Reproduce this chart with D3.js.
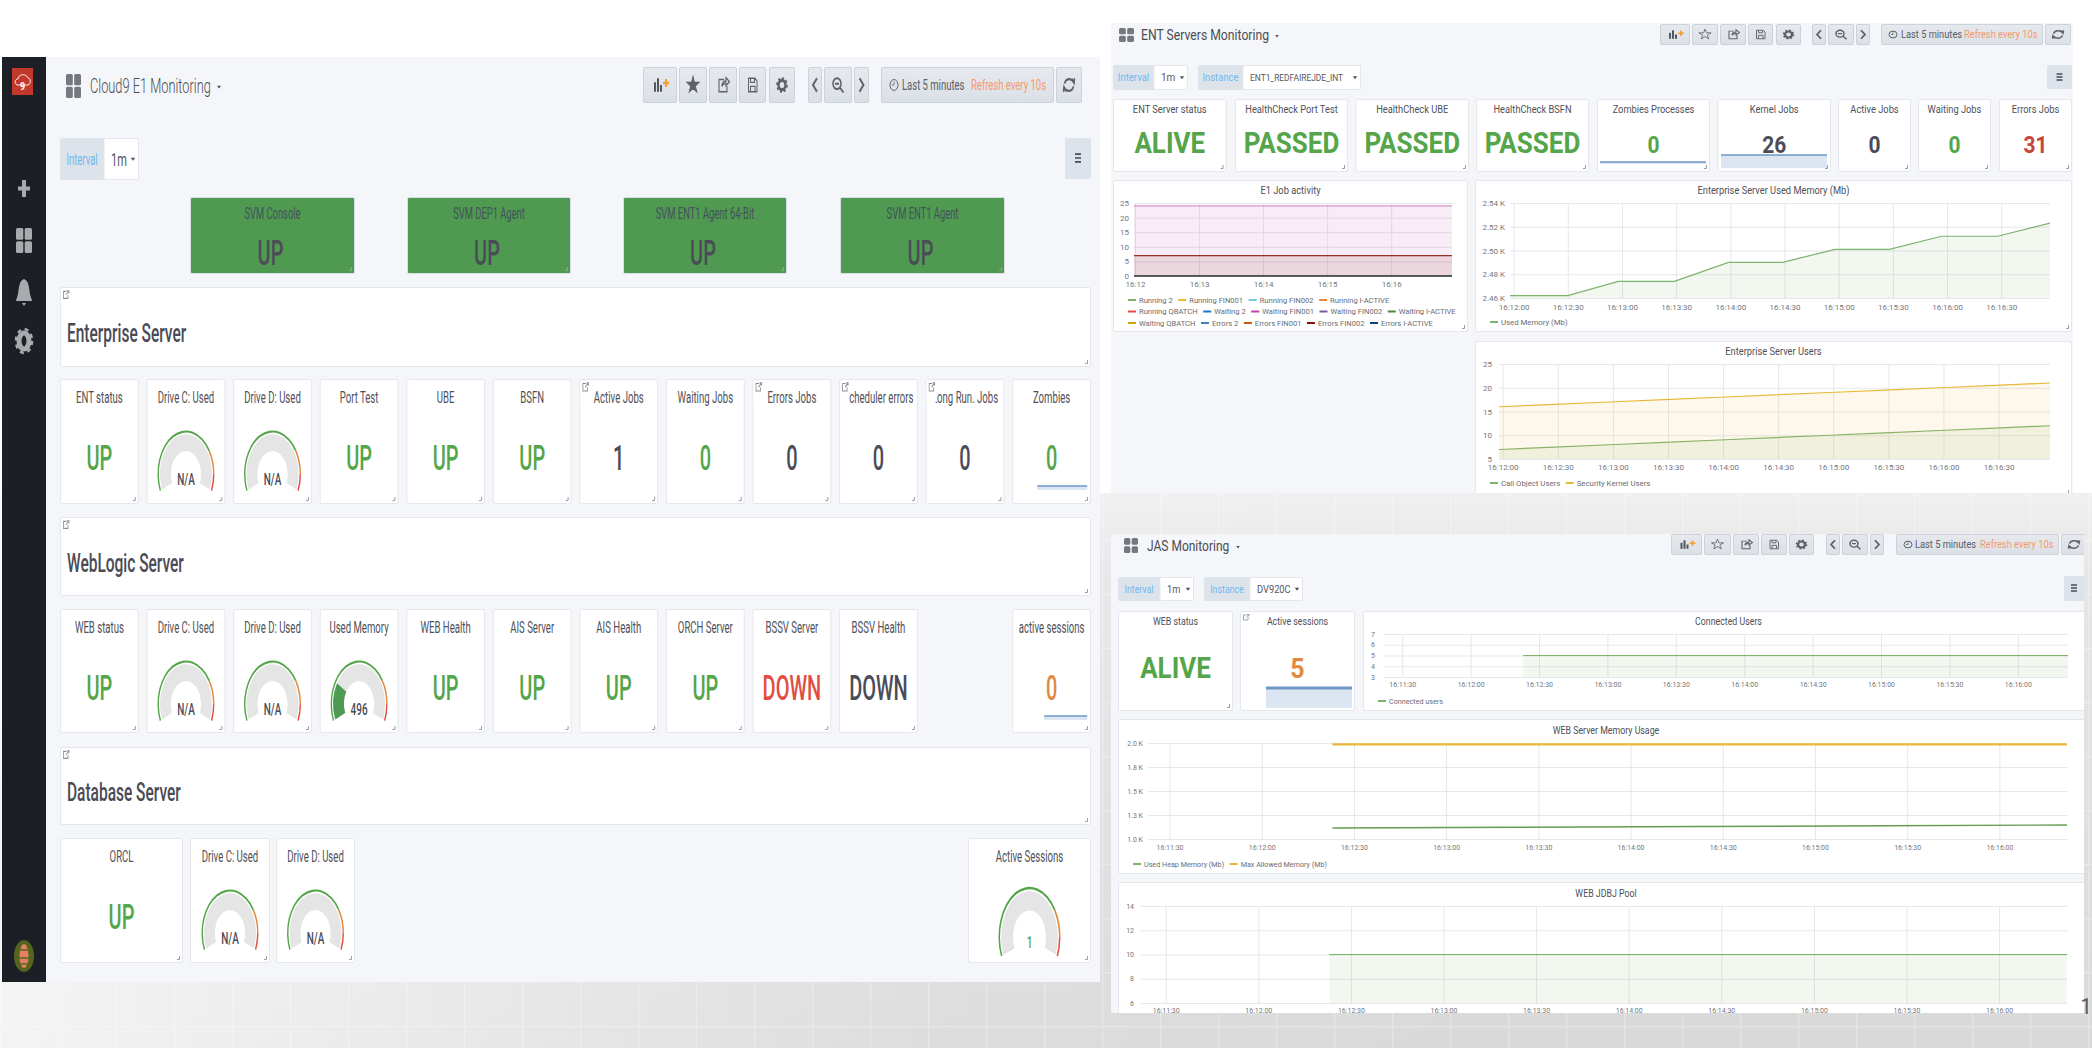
<!DOCTYPE html>
<html>
<head>
<title>E1 Monitoring</title>
<meta charset="utf-8">
<script src="https://d3js.org/d3.v7.min.js"></script>
<style>
  html, body { margin: 0; padding: 0; background: #fff; overflow: hidden; }
  svg { display: block; }
  text { font-family: Roboto, sans-serif; }
  .axis path { display: none; }
  .axis line { display: none; }
  .axis text { fill: #74767c; font-size: 8.5px; }
  .grid path { display: none; }
  .grid line { stroke: #e6e7ea; stroke-width: 1; }
  .grid text { display: none; }
</style>
</head>
<body>
<svg width="2092" height="1048"></svg>
<script>
// ---- data ----
var entTitles = ["ENT status", "Drive C: Used", "Drive D: Used", "Port Test", "UBE", "BSFN", "Active Jobs", "Waiting Jobs", "Errors Jobs", "Scheduler errors", "Long Run. Jobs", "Zombies"];
var entValues = ["UP", "N/A", "N/A", "UP", "UP", "UP", "1", "0", "0", "0", "0", "0"];
var entLevels = ["ok", "none", "none", "ok", "ok", "ok", "none", "ok", "none", "none", "none", "ok"];

var webTitles = ["WEB status", "Drive C: Used", "Drive D: Used", "Used Memory", "WEB Health", "AIS Server", "AIS Health", "ORCH Server", "BSSV Server", "BSSV Health", "", "active sessions"];
var webValues = ["UP", "N/A", "N/A", "496", "UP", "UP", "UP", "UP", "DOWN", "DOWN", "", "0"];
var webLevels = ["ok", "none", "none", "none", "ok", "ok", "ok", "ok", "crit", "none", "", "warn"];

var svmTitles = ["SVM Console", "SVM DEP1 Agent", "SVM ENT1 Agent 64-Bit", "SVM ENT1 Agent"];
var svmValues = ["UP", "UP", "UP", "UP"];

var sectionNames = ["Enterprise Server", "WebLogic Server", "Database Server"];

var entStatTitles = ["ENT Server status", "HealthCheck Port Test", "HealthCheck UBE", "HealthCheck BSFN", "Zombies Processes", "Kernel Jobs", "Active Jobs", "Waiting Jobs", "Errors Jobs"];
var entStatValues = ["ALIVE", "PASSED", "PASSED", "PASSED", "0", "26", "0", "0", "31"];
var entStatLevels = ["ok", "ok", "ok", "ok", "ok", "none", "none", "ok", "bad"];

var jobNames = ["Running 2", "Running FIN001", "Running FIN002", "Running I-ACTIVE", "Running QBATCH", "Waiting 2", "Waiting FIN001", "Waiting FIN002", "Waiting I-ACTIVE", "Waiting QBATCH", "Errors 2", "Errors FIN001", "Errors FIN002", "Errors I-ACTIVE"];
var jobLevels = [0, 0, 0, 0, 0, 0, 24, 0, 0, 0, 0, 0, 7, 0];
var jobTimes = ["16:11:58", "16:12:58", "16:13:58", "16:14:58", "16:15:58", "16:16:57"];
var jobRowStarts = [4, 9];

var entMemTimes = ["16:11:58", "16:12:30", "16:12:58", "16:13:29", "16:13:59", "16:14:29", "16:14:58", "16:15:28", "16:15:57", "16:16:28", "16:16:57"];
var entMemValues = [2462, 2462, 2474, 2474, 2490, 2490, 2501, 2501, 2512, 2512, 2523];

var userTimes = ["16:11:58", "16:12:28", "16:12:58", "16:13:28", "16:13:58", "16:14:28", "16:14:58", "16:15:28", "16:15:58", "16:16:28", "16:16:58"];
var callObjectUsers = [7, 7.5, 8, 8.5, 9, 9.5, 10, 10.5, 11, 11.5, 12];
var kernelUsers = [16, 16.5, 17, 17.5, 18, 18.5, 19, 19.5, 20, 20.5, 21];

var jasTimes = ["16:12:23", "16:13:23", "16:14:23", "16:15:23", "16:16:22"];
var connectedUsers = [5, 5, 5, 5, 5];
var usedHeap = [1115, 1122, 1130, 1138, 1146];
var maxMemory = [1986, 1986, 1986, 1986, 1986];
var jdbcPool = [10, 10, 10, 10, 10];

var memTicks = ["2.46 K", "2.48 K", "2.50 K", "2.52 K", "2.54 K"];
var heapTicks = ["1.0 K", "1.3 K", "1.5 K", "1.8 K", "2.0 K"];

// ---- palette ----
var palette = ["#7EB26D", "#EAB839", "#6ED0E0", "#EF843C", "#E24D42", "#1F78C1", "#BA43A9", "#705DA0", "#508642", "#CCA300", "#447EBC", "#C15C17", "#890F02", "#0A437C"];
var seriesColor = d3.scaleOrdinal().domain(jobNames).range(palette);
var levelColor = d3.scaleOrdinal()
  .domain(["ok", "none", "crit", "warn", "bad"])
  .range(["#55a54a", "#4b4c57", "#e24d42", "#e08a42", "#c8453a"]);
var ink = "#4f5058";

var svg = d3.select("svg");
var parseT = d3.timeParse("%H:%M:%S");
var defs = svg.append("defs");

// page background: a darkening grey under the dashboards, lighter to the left, with a faint tile pattern
var pageGrad = defs.append("linearGradient").attr("id", "pageGrad").attr("x1", 0).attr("y1", 0).attr("x2", 0).attr("y2", 1);
pageGrad.append("stop").attr("offset", "0").attr("stop-color", "#f0f0f0");
pageGrad.append("stop").attr("offset", "0.15").attr("stop-color", "#e6e6e6");
pageGrad.append("stop").attr("offset", "1").attr("stop-color", "#d9d9d9");
var fadeGrad = defs.append("linearGradient").attr("id", "fadeGrad").attr("x1", 0).attr("y1", 0).attr("x2", 1).attr("y2", 0);
fadeGrad.append("stop").attr("offset", "0").attr("stop-color", "#fff").attr("stop-opacity", 0.7);
fadeGrad.append("stop").attr("offset", "0.45").attr("stop-color", "#fff").attr("stop-opacity", 0.1);
fadeGrad.append("stop").attr("offset", "0.72").attr("stop-color", "#fff").attr("stop-opacity", 0);
var tile = defs.append("pattern").attr("id", "tile").attr("patternUnits", "userSpaceOnUse").attr("width", 58).attr("height", 54);
tile.append("path").attr("d", "M0.5,0V54M0,0.5H58").attr("stroke", "#fff").attr("stroke-opacity", 0.3).attr("stroke-width", 1.5);

svg.append("rect").attr("width", 2092).attr("height", 1048).attr("fill", "#fff");
svg.append("rect").attr("x", 0).attr("y", 493).attr("width", 2092).attr("height", 555).attr("fill", "url(#pageGrad)");
svg.append("rect").attr("x", 0).attr("y", 493).attr("width", 2092).attr("height", 555).attr("fill", "url(#tile)");
svg.append("rect").attr("x", 0).attr("y", 493).attr("width", 2092).attr("height", 555).attr("fill", "url(#fadeGrad)");

var btnGrad = defs.append("linearGradient").attr("id", "btnGrad").attr("x1", 0).attr("y1", 0).attr("x2", 0).attr("y2", 1);
btnGrad.append("stop").attr("offset", "0").attr("stop-color", "#e6e9ee");
btnGrad.append("stop").attr("offset", "1").attr("stop-color", "#dbe0e7");

// ---- helpers ----
function txt(g, x, y, s, o) {
  o = o || {};
  return g.append("text")
    .attr("transform", "translate(" + x + "," + y + ") scale(1," + (o.k || 1) + ")")
    .attr("dy", "0.35em")
    .attr("text-anchor", o.anchor || "middle")
    .attr("font-size", o.size || 10)
    .attr("font-weight", o.weight || 400)
    .attr("fill", o.fill || ink)
    .text(s);
}

function rect(g, x0, y0, x1, y1, fill, stroke, r) {
  return g.append("rect").attr("x", x0).attr("y", y0)
    .attr("width", x1 - x0).attr("height", y1 - y0)
    .attr("rx", r || 0)
    .attr("fill", fill).attr("stroke", stroke || "none");
}

function panelBox(g, x0, y0, x1, y1, fill) {
  rect(g, x0 + 0.5, y0 + 0.5, x1 - 0.5, y1 - 0.5, fill || "#fff", fill ? "#d8dee6" : "#e4e7ec", 1.5);
  g.append("path")
    .attr("d", "M" + (x1 - 6) + "," + (y1 - 3.5) + "H" + (x1 - 3.5) + "V" + (y1 - 7))
    .attr("fill", "none").attr("stroke", "#9a9ca0").attr("stroke-width", 1);
}

function infoTab(g, x0, y0, k) {
  rect(g, x0 + 1, y0 + 1, x0 + 10, y0 + 9 * k, "#fff");
  g.append("path")
    .attr("transform", "translate(" + (x0 + 3) + "," + (y0 + 3) + ") scale(1," + Math.min(k, 1.5) + ")")
    .attr("d", "M3.5,1H0.5V6H5V3.5 M3,3.5L6,0.5 M4,0.5H6V2.5")
    .attr("fill", "none").attr("stroke", "#8b8d92").attr("stroke-width", 0.8);
}

function gridIcon(g, x0, y0, x1, y1, fill) {
  var mx = (x0 + x1) / 2, my = (y0 + y1) / 2;
  [[x0, y0, mx - 0.7, my - 0.7], [mx + 0.7, y0, x1, my - 0.7], [x0, my + 0.7, mx - 0.7, y1], [mx + 0.7, my + 0.7, x1, y1]]
    .forEach(function(b) { rect(g, b[0], b[1], b[2], b[3], fill, null, 1.5); });
}

function caret(g, x, y, size) {
  g.append("path").attr("d", "M" + (x - size) + "," + (y - size * 0.6) + "H" + (x + size) + "L" + x + "," + (y + size * 0.8) + "Z").attr("fill", ink);
}

function icon(g, kind, cx, cy, k, solidStar) {
  var c = g.append("g").attr("transform", "translate(" + cx + "," + cy + ") scale(1," + k + ")");
  var stroke = "#5f6168";
  if (kind == "add") {
    [[-6, 3.5], [-3, 5], [0, 2.5]].forEach(function(b) { rect(c, b[0], 5 - b[1] * 2, b[0] + 2, 5, "#55575e"); });
    c.append("path").attr("d", "M3,-1.5H9M6,-4.5V1.5").attr("stroke", "#f2a02e").attr("stroke-width", 2);
  } else if (kind == "star") {
    c.append("path").attr("d", d3.symbol().type(d3.symbolStar).size(46)())
      .attr("fill", solidStar ? stroke : "none").attr("stroke", stroke).attr("stroke-width", 0.9);
  } else if (kind == "share") {
    c.append("path").attr("d", "M1,-4H-4V5H4V1 M-1,1C-1,-2 1,-3 3,-3V-5.5L6.5,-2.5L3,0.5V-1.5C1,-1.5 0,-0.5 -1,1")
      .attr("fill", "none").attr("stroke", stroke).attr("stroke-width", 1.1);
  } else if (kind == "save") {
    c.append("path").attr("d", "M-4,-5H2.5L4.5,-3V5H-4Z M-2,-5V-2H2V-5 M-2,5V1H2.5V5")
      .attr("fill", "none").attr("stroke", stroke).attr("stroke-width", 1);
  } else if (kind == "gear") {
    c.append("circle").attr("r", 3.5).attr("fill", "none").attr("stroke", stroke).attr("stroke-width", 2.4);
    c.append("circle").attr("r", 5).attr("fill", "none").attr("stroke", stroke).attr("stroke-width", 1.6).attr("stroke-dasharray", "2 1.9");
  } else if (kind == "prev" || kind == "next") {
    var s = kind == "prev" ? 1 : -1;
    c.append("path").attr("d", "M" + (2 * s) + ",-5L" + (-2 * s) + ",0L" + (2 * s) + ",5")
      .attr("fill", "none").attr("stroke", stroke).attr("stroke-width", 1.8);
  } else if (kind == "zoom") {
    c.append("circle").attr("cx", -1).attr("cy", -1).attr("r", 4).attr("fill", "none").attr("stroke", stroke).attr("stroke-width", 1.5);
    c.append("path").attr("d", "M2,2L5.5,5.5M-3,-1H1").attr("stroke", stroke).attr("stroke-width", 1.5);
  } else if (kind == "refresh") {
    c.append("path").attr("d", "M4.5,-2A5,5 0 0 0 -4.5,-1 M-4.5,2A5,5 0 0 0 4.5,1 M3,-4.5L5,-1.5L5.5,-5 M-3,4.5L-5,1.5L-5.5,5")
      .attr("fill", "none").attr("stroke", stroke).attr("stroke-width", 1.6);
  } else if (kind == "menu") {
    c.append("path").attr("d", "M-3,-3H3M-3,0H3M-3,3H3").attr("stroke", "#4a4b52").attr("stroke-width", 1.3);
  }
}

function button(g, x0, x1, y0, y1, kind, k, solidStar) {
  rect(g, x0 + 0.5, y0 + 0.5, x1 - 0.5, y1 - 0.5, "url(#btnGrad)", "#ccd2da", 1.5);
  if (kind) icon(g, kind, (x0 + x1) / 2, (y0 + y1) / 2, k, solidStar);
}

var toolKinds = ["add", "star", "share", "save", "gear", "prev", "zoom", "next"];

function toolbar(g, edges, y0, y1, k, solidStar, time) {
  edges.forEach(function(e, i) { button(g, e[0], e[1], y0, y1, toolKinds[i], k, solidStar); });
  var cy = (y0 + y1) / 2;
  button(g, time.x0, time.x1, y0, y1, null);
  button(g, time.x1 + 2, time.x1 + 28, y0, y1, "refresh", k);
  g.append("ellipse").attr("cx", time.clock).attr("cy", cy).attr("rx", 4).attr("ry", 4 * k)
    .attr("fill", "none").attr("stroke", "#5f6168").attr("stroke-width", 1);
  g.append("path").attr("d", "M" + time.clock + "," + (cy - 2.5 * k) + "V" + cy + "H" + (time.clock - 2))
    .attr("fill", "none").attr("stroke", "#5f6168").attr("stroke-width", 0.8);
  txt(g, time.lastX, cy, "Last 5 minutes", { size: time.size, k: time.tk, anchor: "start", fill: "#5b5d64" });
  txt(g, time.refreshX, cy, "Refresh every 10s", { size: time.size, k: time.tk, anchor: "start", fill: "#f5996b" });
}

function varBox(g, label, value, x0, xm, x1, y0, y1, size, k, valueSize) {
  rect(g, x0 + 0.5, y0 + 0.5, x1 - 0.5, y1 - 0.5, "#dde3eb", "#dde3eb", 1.5);
  rect(g, xm, y0 + 0.5, x1 - 0.5, y1 - 0.5, "#fff", "#e4e8ee", 1.5);
  var cy = (y0 + y1) / 2;
  txt(g, (x0 + xm) / 2, cy, label, { size: size, k: k, fill: "#6fb9ee" });
  txt(g, xm + 7, cy, value, { size: valueSize || size + 0.5, k: k, anchor: "start", fill: "#55575e" });
  caret(g, x1 - 6, cy, 2.2);
}

function spark(g, values, x0, x1, yBottom, yLine, thick) {
  var sx = d3.scaleLinear().domain([0, values.length - 1]).range([x0, x1]);
  var top = d3.max(values);
  var sy = d3.scaleLinear().domain(top > 0 ? [0, top] : [-1, 0]).range([yBottom, yLine]);
  g.append("path").datum(values)
    .attr("d", d3.area().x(function(d, i) { return sx(i); }).y0(yBottom).y1(function(d) { return sy(d); }))
    .attr("fill", "#dbe6f2");
  g.append("path").datum(values)
    .attr("d", d3.line().x(function(d, i) { return sx(i); }).y(function(d) { return sy(d); }))
    .attr("fill", "none").attr("stroke", "#6f97c6").attr("stroke-width", thick || 1.5);
}

// threshold gauge, flattened into an ellipse by k like the rest of the left dashboard
var gaugeAngle = d3.scaleLinear().domain([0, 1]).range([-113, 113]).clamp(true);
var thresholdStops = [[0, 0.75, "#55a54a"], [0.75, 0.9, "#e08a3c"], [0.9, 1, "#e24d42"]];

function gauge(g, cx, cy, value, max, rOuter, k, textDy) {
  var rad = Math.PI / 180;
  var c = g.append("g").attr("transform", "translate(" + cx + "," + cy + ") scale(1," + k + ")");
  var band = d3.arc().innerRadius(rOuter * 0.53).outerRadius(rOuter * 0.91);
  var ring = d3.arc().innerRadius(rOuter * 0.95).outerRadius(rOuter);
  c.append("path").attr("fill", "#e5e5e5")
    .attr("d", band({ startAngle: gaugeAngle(0) * rad, endAngle: gaugeAngle(1) * rad }));
  if (value != null) {
    c.append("path").attr("fill", "#4f9a52")
      .attr("d", band({ startAngle: gaugeAngle(0) * rad, endAngle: gaugeAngle(value / max) * rad }));
  }
  thresholdStops.forEach(function(s) {
    c.append("path").attr("fill", s[2])
      .attr("d", ring({ startAngle: gaugeAngle(s[0]) * rad, endAngle: gaugeAngle(s[1]) * rad }));
  });
  txt(g, cx, cy + textDy, value == null ? "N/A" : (value + ""), {
    size: 10, k: 1.6, weight: 500, fill: value === 1 ? "#55a54a" : "#4b4c57"
  });
}

// a time series panel: scales and axes are built from the panel's own arrays
function graph(g, c) {
  panelBox(g, c.x0, c.y0, c.x1, c.y1);
  txt(g, (c.x0 + c.x1) / 2, c.titleY, c.title, { size: c.titleSize, k: c.k, fill: "#4f5058", weight: 400 });

  var x = d3.scaleTime().domain(c.domain.map(parseT)).range([c.px0, c.px1]);
  var y = d3.scaleLinear().domain(c.yDomain).range([c.py1, c.py0]);
  var xTicks = c.xTicks.map(parseT);

  var clipId = "clip" + c.id;
  defs.append("clipPath").attr("id", clipId).append("rect")
    .attr("x", c.px0).attr("y", c.py0 - 2).attr("width", c.px1 - c.px0).attr("height", c.py1 - c.py0 + 3);

  g.append("g").attr("class", "grid").attr("transform", "translate(0," + c.py1 + ")")
    .call(d3.axisBottom(x).tickValues(xTicks).tickSize(-(c.py1 - c.py0)));
  g.append("g").attr("class", "grid").attr("transform", "translate(" + c.px0 + ",0)")
    .call(d3.axisLeft(y).tickValues(c.yTicks).tickSize(-(c.px1 - c.px0)));

  var plot = g.append("g").attr("clip-path", "url(#" + clipId + ")");
  c.series.forEach(function(s) {
    var pts = s.values.map(function(v, i) { return [parseT(s.times[i]), v]; });
    if (!c.noFill) {
      plot.append("path").datum(pts)
        .attr("d", d3.area().x(function(d) { return x(d[0]); }).y0(y(c.yDomain[0])).y1(function(d) { return y(d[1]); }))
        .attr("fill", s.color).attr("fill-opacity", 0.1);
    }
    plot.append("path").datum(pts)
      .attr("d", d3.line().x(function(d) { return x(d[0]); }).y(function(d) { return y(d[1]); }))
      .attr("fill", "none").attr("stroke", s.color).attr("stroke-width", s.width || 1.2).attr("stroke-opacity", s.opacity || 1);
  });

  var xAxis = g.append("g").attr("class", "axis").attr("transform", "translate(0," + c.labelY + ")")
    .call(d3.axisBottom(x).tickValues(xTicks).tickFormat(d3.timeFormat(c.timeFormat)).tickSize(0).tickPadding(0));
  var yAxis = g.append("g").attr("class", "axis").attr("transform", "translate(" + c.yLabelX + ",0)")
    .call(d3.axisLeft(y).tickValues(c.yTicks).tickFormat(function(d, i) { return c.yLabels ? c.yLabels[i] : d; }).tickSize(0).tickPadding(0));
  [xAxis, yAxis].forEach(function(a) {
    a.selectAll("text").attr("dy", 0).attr("dominant-baseline", "central").style("font-size", c.tickSize + "px");
  });

  legend(g, c.legend, c.legendX, c.legendY, c.legendStep, c.legendRows || [], c.legendSize);
}

function legend(g, items, x0, y0, rowStep, rowStarts, size) {
  var cx = x0, cy = y0;
  items.forEach(function(it, i) {
    if (rowStarts.indexOf(i) >= 0) { cx = x0; cy += rowStep; }
    var t = txt(g, cx + 11, cy, it.name, { size: size, anchor: "start", fill: "#6a6c72" });
    rect(g, cx, cy - 1, cx + 8, cy + 1, it.color);
    cx += 11 + t.node().getComputedTextLength() + 5.5;
  });
}

// ---- left dashboard: Cloud9 E1 Monitoring ----
var kL = 1.75;
var left = svg.append("g");
rect(left, 2, 57, 1100, 982, "#f5f6f9");
rect(left, 2, 57, 46, 982, "#1c1f26");

// sidebar
rect(left, 12, 68, 33, 95, "#c2392b");
left.append("path").attr("d", "M17,85C14,83 15,79 18,79C18,74 26,73 28,78C31,78 31,84 28,85Z").attr("fill", "none").attr("stroke", "#fff").attr("stroke-width", 0.9);
txt(left, 22.5, 86, "9", { size: 9, k: 1.3, weight: 700, fill: "#fff" });
left.append("path").attr("d", "M24,180V197M18,188.5H30").attr("stroke", "#a8aaae").attr("stroke-width", 4);
gridIcon(left, 16, 228, 32, 253, "#a8aaae");
left.append("path").attr("d", "M24,279C19,281 19,288 18,294C17,298 16,300 16,301H32C32,300 31,298 30,294C29,288 29,281 24,279Z M22,303H26L24,306Z").attr("fill", "#a8aaae");
left.append("ellipse").attr("cx", 24).attr("cy", 341).attr("rx", 5).attr("ry", 8).attr("fill", "none").attr("stroke", "#a8aaae").attr("stroke-width", 5);
left.append("ellipse").attr("cx", 24).attr("cy", 341).attr("rx", 8).attr("ry", 12).attr("fill", "none").attr("stroke", "#a8aaae").attr("stroke-width", 2.5).attr("stroke-dasharray", "4 4");
left.append("ellipse").attr("cx", 24).attr("cy", 956).attr("rx", 10).attr("ry", 16).attr("fill", "#54661e");
left.append("ellipse").attr("cx", 24).attr("cy", 956).attr("rx", 4.5).attr("ry", 12).attr("fill", "#e58066");
left.append("path").attr("d", "M19,950H29M19,958H29M19,964H29").attr("stroke", "#54661e").attr("stroke-width", 1.5);

// header
gridIcon(left, 66, 74, 81, 98, "#767880");
txt(left, 90, 86, "Cloud9 E1 Monitoring", { size: 12.8, k: 1.6, anchor: "start", weight: 300, fill: "#4b4c54" });
caret(left, 219, 87, 2);
toolbar(left, [[643, 677], [679, 707], [709, 737], [739, 766], [769, 795], [808, 822], [824, 852], [854, 869]],
  67, 103, 1.35, true, { x0: 881, x1: 1054, clock: 894, lastX: 902, refreshX: 971, size: 9.5, tk: 1.6 });
varBox(left, "Interval", "1m", 60, 104, 139, 138, 180, 9.5, kL, 11);
rect(left, 1065, 138, 1091, 179, "#dde3eb", null, 1.5);
icon(left, "menu", 1078, 158, 1.3);

// SVM row
var svmEdges = [[190, 355], [407, 571], [623, 787], [840, 1005]];
svmTitles.forEach(function(t, i) {
  var e = svmEdges[i], cx = (e[0] + e[1]) / 2;
  panelBox(left, e[0], 197, e[1], 274, "#4f9a50");
  txt(left, cx, 213, t, { size: 9.4, k: kL, fill: "#43525c" });
  txt(left, cx - 2, 253, svmValues[i], { size: 20, k: 1.75, weight: 500, fill: "#4b4c57" });
});

// section headings
[[287, 367, 333], [517, 596, 563], [747, 825, 792]].forEach(function(b, i) {
  panelBox(left, 60, b[0], 1091, b[1]);
  infoTab(left, 60, b[0], 1.4);
  txt(left, 67, b[2], sectionNames[i], { size: 15.5, k: 1.65, weight: 500, anchor: "start", fill: "#4a4b55" });
});

var cols = d3.scaleBand().domain(d3.range(12)).range([60, 1091]).paddingInner(0.09);

function leftStat(g, cx, x0, x1, y0, y1, title, value, level) {
  panelBox(g, x0, y0, x1, y1);
  txt(g, cx, y0 + 18, title, { size: 9.6, k: kL, fill: "#4f5058" });
  if (value) txt(g, cx, y0 + 79, value, { size: 20, k: 1.75, weight: 500, fill: levelColor(level) });
}

function leftRow(titles, values, levels, y0, y1, tabs) {
  titles.forEach(function(t, i) {
    if (!t) return;
    var x0 = cols(i), x1 = x0 + cols.bandwidth(), cx = (x0 + x1) / 2;
    var isGauge = /^Drive|^Used Memory/.test(t);
    leftStat(left, cx, x0, x1, y0, y1, t, isGauge ? null : values[i], levels[i]);
    if (isGauge) gauge(left, cx, y0 + 95, values[i] == "N/A" ? null : +values[i], 2048, 28.5, 1.53, 5);
    if (tabs.indexOf(t) >= 0) infoTab(left, x0, y0, 3);
  });
}

leftRow(entTitles, entValues, entLevels, 379, 504, ["Active Jobs", "Errors Jobs", "Scheduler errors", "Long Run. Jobs"]);
spark(left, [0, 0, 0, 0, 0], cols(11) + 25, cols(11) + 75, 490, 486);
leftRow(webTitles, webValues, webLevels, 609, 733, []);
spark(left, [0, 0, 0, 0, 0], cols(11) + 32, cols(11) + 75, 720, 716);

// database row
leftStat(left, 121.5, 60, 183, 838, 963, "ORCL", "UP", "ok");
[[190, 270, "Drive C: Used"], [276, 355, "Drive D: Used"]].forEach(function(d) {
  var cx = (d[0] + d[1]) / 2;
  leftStat(left, cx, d[0], d[1], 838, 963, d[2], null);
  gauge(left, cx, 933, null, 100, 28.5, 1.53, 5);
});
leftStat(left, 1029.5, 968, 1091, 838, 963, "Active Sessions", null);
gauge(left, 1029.5, 937, 1, 1000, 31, 1.62, 5);

// ---- right top dashboard: ENT Servers Monitoring ----
var kE = 1.12;
defs.append("clipPath").attr("id", "entClip").append("rect").attr("x", 1111).attr("y", 23).attr("width", 962).attr("height", 470);
var ent = svg.append("g").attr("clip-path", "url(#entClip)");
rect(ent, 1111, 23, 2073, 493, "#f5f6f9");
gridIcon(ent, 1119, 28, 1134, 42, "#767880");
txt(ent, 1141, 35, "ENT Servers Monitoring", { size: 12.2, k: 1.2, anchor: "start", fill: "#4b4c54" });
caret(ent, 1277, 36, 1.8);
toolbar(ent, [[1660, 1690], [1692, 1718], [1720, 1746], [1748, 1773], [1776, 1801], [1812, 1826], [1828, 1854], [1856, 1870]],
  24, 45, 0.85, false, { x0: 1881, x1: 2043, clock: 1893, lastX: 1901, refreshX: 1964, size: 9.3, tk: 1.12 });
varBox(ent, "Interval", "1m", 1113, 1154, 1188, 65, 90, 9.5, kE, 10);
varBox(ent, "Instance", "ENT1_REDFAIREJDE_INT", 1198, 1243, 1361, 65, 90, 9.5, kE, 8.4);
rect(ent, 2047, 65, 2072, 89, "#dde3eb", null, 1.5);
icon(ent, "menu", 2059.5, 77, 1);

var entStatEdges = [[1113, 1226.5], [1235, 1348], [1355.5, 1469], [1476, 1589], [1597, 1710], [1717.5, 1831], [1838, 1911], [1918, 1991], [1999, 2072]];
entStatTitles.forEach(function(t, i) {
  var e = entStatEdges[i], cx = (e[0] + e[1]) / 2, v = entStatValues[i];
  panelBox(ent, e[0], 99, e[1], 172);
  txt(ent, cx, 109, t, { size: 9.3, k: kE, fill: "#4f5058" });
  var word = isNaN(+v);
  txt(ent, cx, word ? 143 : 145, v, { size: word ? 26 : 21, k: 1.12, weight: 700, fill: levelColor(entStatLevels[i]) });
});
spark(ent, [0, 0, 0, 0, 0], 1600, 1706, 164, 162);
spark(ent, [26, 26, 26, 26, 26], 1721, 1827, 168, 155);

graph(ent, {
  id: "job", x0: 1113, x1: 1468, y0: 180, y1: 332, title: "E1 Job activity", titleY: 190, titleSize: 9.3, k: kE,
  px0: 1134, px1: 1452, py0: 203, py1: 276,
  domain: ["16:11:59", "16:16:57"], yDomain: [0, 25], yTicks: [0, 5, 10, 15, 20, 25],
  xTicks: ["16:12:00", "16:13:00", "16:14:00", "16:15:00", "16:16:00"], timeFormat: "%H:%M",
  labelY: 284, yLabelX: 1129, tickSize: 8,
  series: jobNames.map(function(n, i) {
    return { times: jobTimes, values: jobTimes.map(function() { return jobLevels[i]; }), color: seriesColor(n), opacity: jobLevels[i] == 24 ? 0.55 : 0.85 };
  }),
  legend: jobNames.map(function(n) { return { name: n, color: seriesColor(n) }; }),
  legendX: 1128, legendY: 300, legendStep: 11.5, legendRows: jobRowStarts, legendSize: 7.6
});

graph(ent, {
  id: "mem", x0: 1475, x1: 2072, y0: 180, y1: 332, title: "Enterprise Server Used Memory (Mb)", titleY: 190, titleSize: 9.3, k: kE,
  px0: 1510, px1: 2050, py0: 203, py1: 298,
  domain: ["16:11:58", "16:16:57"], yDomain: [2460, 2540], yTicks: [2460, 2480, 2500, 2520, 2540], yLabels: memTicks,
  xTicks: ["16:12:00", "16:12:30", "16:13:00", "16:13:30", "16:14:00", "16:14:30", "16:15:00", "16:15:30", "16:16:00", "16:16:30"], timeFormat: "%H:%M:%S",
  labelY: 307, yLabelX: 1505, tickSize: 8,
  series: [{ times: entMemTimes, values: entMemValues, color: palette[0] }],
  legend: [{ name: "Used Memory (Mb)", color: palette[0] }],
  legendX: 1490, legendY: 322, legendStep: 11, legendSize: 7.8
});

graph(ent, {
  id: "users", x0: 1475, x1: 2072, y0: 341, y1: 497, title: "Enterprise Server Users", titleY: 351, titleSize: 9.3, k: kE,
  px0: 1499, px1: 2050, py0: 364, py1: 459,
  domain: ["16:11:58", "16:16:58"], yDomain: [5, 25], yTicks: [5, 10, 15, 20, 25],
  xTicks: ["16:12:00", "16:12:30", "16:13:00", "16:13:30", "16:14:00", "16:14:30", "16:15:00", "16:15:30", "16:16:00", "16:16:30"], timeFormat: "%H:%M:%S",
  labelY: 467, yLabelX: 1492, tickSize: 8,
  series: [
    { times: userTimes, values: callObjectUsers, color: palette[0] },
    { times: userTimes, values: kernelUsers, color: palette[1] }
  ],
  legend: [{ name: "Call Object Users", color: palette[0] }, { name: "Security Kernel Users", color: palette[1] }],
  legendX: 1490, legendY: 483, legendStep: 11, legendSize: 7.8
});

// ---- right bottom dashboard: JAS Monitoring ----
var kJ = 1.25;
defs.append("clipPath").attr("id", "jasClip").append("rect").attr("x", 1111).attr("y", 534).attr("width", 973).attr("height", 479);
var jas = svg.append("g").attr("clip-path", "url(#jasClip)");
rect(jas, 1111, 534, 2084, 1013, "#f5f6f9");
gridIcon(jas, 1124, 538, 1138, 553, "#767880");
txt(jas, 1147, 546, "JAS Monitoring", { size: 12, k: kJ, anchor: "start", fill: "#4b4c54" });
caret(jas, 1238, 547, 1.8);
toolbar(jas, [[1671, 1702], [1704, 1731], [1733, 1759], [1761, 1787], [1789, 1814], [1826, 1840], [1842, 1868], [1870, 1884]],
  534, 555, 0.85, false, { x0: 1896, x1: 2059, clock: 1908, lastX: 1915, refreshX: 1980, size: 9.3, tk: 1.12 });
varBox(jas, "Interval", "1m", 1118, 1160, 1194, 577, 601, 8.8, kJ);
varBox(jas, "Instance", "DV920C", 1204, 1250, 1303, 577, 601, 8.8, kJ);
rect(jas, 2064, 576, 2087, 601, "#dde3eb", null, 1.5);
icon(jas, "menu", 2074, 588, 1);

panelBox(jas, 1118, 611, 1233, 711);
txt(jas, 1175.5, 621, "WEB status", { size: 8.8, k: kJ, fill: "#4f5058" });
txt(jas, 1175.5, 668, "ALIVE", { size: 26, k: 1.12, weight: 700, fill: levelColor("ok") });
panelBox(jas, 1240, 611, 1355, 711);
txt(jas, 1297.5, 621, "Active sessions", { size: 8.8, k: kJ, fill: "#4f5058" });
txt(jas, 1297.5, 668, "5", { size: 25, k: 1.12, weight: 700, fill: levelColor("warn") });
infoTab(jas, 1240, 611, 1);
spark(jas, [5, 5, 5, 5, 5], 1266, 1352, 708, 688, 3);

var jasTicks = ["16:11:30", "16:12:00", "16:12:30", "16:13:00", "16:13:30", "16:14:00", "16:14:30", "16:15:00", "16:15:30", "16:16:00"];

graph(jas, {
  id: "conn", x0: 1363, x1: 2094, y0: 611, y1: 711, title: "Connected Users", titleY: 621, titleSize: 8.8, k: kJ,
  px0: 1384, px1: 2068, py0: 634, py1: 677,
  domain: ["16:11:22", "16:16:22"], yDomain: [3, 7], yTicks: [3, 4, 5, 6, 7],
  xTicks: jasTicks, timeFormat: "%H:%M:%S",
  labelY: 685, yLabelX: 1375, tickSize: 7,
  series: [{ times: jasTimes, values: connectedUsers, color: palette[0] }],
  legend: [{ name: "Connected users", color: palette[0] }],
  legendX: 1378, legendY: 701, legendStep: 11, legendSize: 7.2
});

graph(jas, {
  id: "heap", x0: 1118, x1: 2094, y0: 719, y1: 874, title: "WEB Server Memory Usage", titleY: 730, titleSize: 8.8, k: kJ, noFill: true,
  px0: 1148, px1: 2067, py0: 743, py1: 839,
  domain: ["16:11:23", "16:16:22"], yDomain: [1000, 2000], yTicks: [1000, 1250, 1500, 1750, 2000], yLabels: heapTicks,
  xTicks: jasTicks, timeFormat: "%H:%M:%S",
  labelY: 848, yLabelX: 1143, tickSize: 7,
  series: [
    { times: jasTimes, values: usedHeap, color: "#629e51", width: 1.4 },
    { times: jasTimes, values: maxMemory, color: palette[1], width: 2.2 }
  ],
  legend: [{ name: "Used Heap Memory (Mb)", color: palette[0] }, { name: "Max Allowed Memory (Mb)", color: palette[1] }],
  legendX: 1133, legendY: 864, legendStep: 11, legendSize: 7.2
});

graph(jas, {
  id: "pool", x0: 1118, x1: 2094, y0: 882, y1: 1040, title: "WEB JDBJ Pool", titleY: 893, titleSize: 8.8, k: kJ,
  px0: 1141, px1: 2067, py0: 906, py1: 1003,
  domain: ["16:11:22", "16:16:22"], yDomain: [6, 14], yTicks: [6, 8, 10, 12, 14],
  xTicks: jasTicks, timeFormat: "%H:%M:%S",
  labelY: 1011, yLabelX: 1134, tickSize: 7,
  series: [{ times: jasTimes, values: jdbcPool, color: palette[0] }],
  legend: [],
  legendX: 1133, legendY: 1030, legendStep: 11, legendSize: 7.2
});

txt(svg, 2086, 1006, "1", { size: 20, k: 1.1, fill: "#55565c" });
</script>
</body>
</html>
